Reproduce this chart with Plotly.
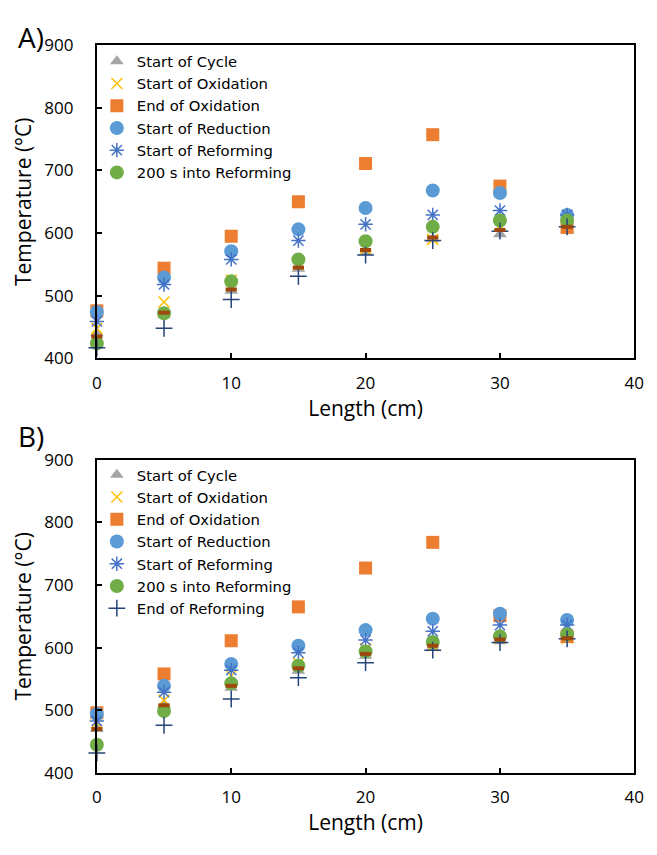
import plotly.graph_objects as go

x_len = [0, 5, 10, 15, 20, 25, 30, 35]

# Panel A
a_start_cycle = [440, 470, 508, 543, 570, 590, 598, 605]
a_start_ox = [448, 490, 525, 550, 575, 590, 612, 612]
a_end_ox = [476, 544, 595, 650, 711, 757, 675, 609]
a_start_red = [474, 529, 571, 606, 640, 668, 664, 629]
a_start_ref = [459, 518, 558, 588, 614, 629, 636, 629]
a_200s = [424, 472, 523, 558, 587, 610, 620, 620]
a_end_ref = [417, 448, 494, 531, 565, 588, 603, 610]
a_extra = [435, 473, 510, 545, 573, 593, 605, 610]

# Panel B
b_start_cycle = [470, 509, 536, 563, 587, 600, 610, 612]
b_start_ox = [480, 516, 555, 575, 598, 603, 615, 615]
b_end_ox = [496, 558, 611, 665, 727, 768, 651, 618]
b_start_red = [494, 539, 574, 603, 628, 646, 654, 644]
b_start_ref = [483, 529, 564, 592, 612, 626, 636, 636]
b_200s = [445, 499, 543, 571, 594, 609, 618, 621]
b_end_ref = [432, 476, 518, 552, 576, 596, 608, 614]
b_extra = [470, 508, 539, 567, 590, 603, 613, 615]

names = ["Start of Cycle", "Start of Oxidation", "End of Oxidation",
         "Start of Reduction", "Start of Reforming", "200 s into Reforming",
         "End of Reforming", ""]

styles = [
    dict(symbol="triangle-up", color="#A5A5A5", size=12),
    dict(symbol="x-thin-open", color="#FFC000", size=11, line=dict(width=1.5, color="#FFC000")),
    dict(symbol="square", color="#ED7D31", size=13),
    dict(symbol="circle", color="#5B9BD5", size=14),
    dict(symbol="asterisk-open", color="#4472C4", size=12, line=dict(width=1.5, color="#4472C4")),
    dict(symbol="circle", color="#70AD47", size=14),
    dict(symbol="cross-thin-open", color="#264478", size=12, line=dict(width=1.5, color="#264478")),
    dict(symbol="line-ew-open", color="#9E480E", size=8, line=dict(width=4, color="#9E480E")),
]

FONT = "Open Sans"
LEG_FONT = "DejaVu Sans"
fig = go.Figure()

series_a = [a_start_cycle, a_start_ox, a_end_ox, a_start_red, a_start_ref, a_200s, a_end_ref, a_extra]
series_b = [b_start_cycle, b_start_ox, b_end_ox, b_start_red, b_start_ref, b_200s, b_end_ref, b_extra]

for i, ys in enumerate(series_a):
    fig.add_trace(go.Scatter(x=x_len, y=ys, mode="markers", name=names[i],
                             marker=styles[i], xaxis="x", yaxis="y", cliponaxis=False,
                             legend="legend", showlegend=(i < 6)))
for i, ys in enumerate(series_b):
    fig.add_trace(go.Scatter(x=x_len, y=ys, mode="markers", name=names[i],
                             marker=styles[i], xaxis="x2", yaxis="y2", cliponaxis=False,
                             legend="legend2", showlegend=(i < 7)))

axis_common = dict(showline=True, linecolor="black", linewidth=2, mirror=True,
                   ticks="inside", ticklen=5, tickwidth=1.5, tickcolor="black",
                   showgrid=False, zeroline=False,
                   tickfont=dict(family=FONT, size=17, color="black"))
title_font = dict(family=FONT, size=21, color="black")

x_dom = [94 / 657, 644 / 657]
fig.update_layout(
    width=657, height=855,
    margin=dict(l=0, r=0, t=0, b=0),
    paper_bgcolor="white", plot_bgcolor="white",
    font=dict(family=FONT, color="black"),
    xaxis=dict(domain=x_dom, anchor="y", range=[0, 40], dtick=10, ticklabelstandoff=8,
               title=dict(text="Length (cm)", font=title_font, standoff=0),
               **axis_common),
    yaxis=dict(domain=[499 / 855, 821 / 855], anchor="x", range=[400, 900], dtick=100,
               ticklabelstandoff=18,
               title=dict(text="Temperature (°C)", font=title_font, standoff=7),
               **axis_common),
    xaxis2=dict(domain=x_dom, anchor="y2", range=[0, 40], dtick=10, ticklabelstandoff=8,
                title=dict(text="Length (cm)", font=title_font, standoff=0),
                **axis_common),
    yaxis2=dict(domain=[73 / 855, 395 / 855], anchor="x2", range=[400, 900], dtick=100,
                ticklabelstandoff=18,
                title=dict(text="Temperature (°C)", font=title_font, standoff=7),
                **axis_common),
    legend=dict(x=94 / 657, y=1 - 34 / 855, xanchor="left", yanchor="top",
                bgcolor="rgba(0,0,0,0)", font=dict(family=LEG_FONT, size=14.8),
                tracegroupgap=0, itemwidth=30),
    legend2=dict(x=94 / 657, y=1 - 459 / 855, xanchor="left", yanchor="top",
                 bgcolor="rgba(0,0,0,0)", font=dict(family=LEG_FONT, size=14.8),
                 tracegroupgap=0, itemwidth=30),
    annotations=[
        dict(text="A)", x=11 / 657, y=1 - 26 / 855, xref="paper", yref="paper",
             xanchor="left", yanchor="middle", showarrow=False,
             font=dict(family=FONT, size=28, color="black")),
        dict(text="B)", x=11 / 657, y=1 - 436 / 855, xref="paper", yref="paper",
             xanchor="left", yanchor="middle", showarrow=False,
             font=dict(family=FONT, size=28, color="black")),
    ],
)

fig.write_html("out.html")
